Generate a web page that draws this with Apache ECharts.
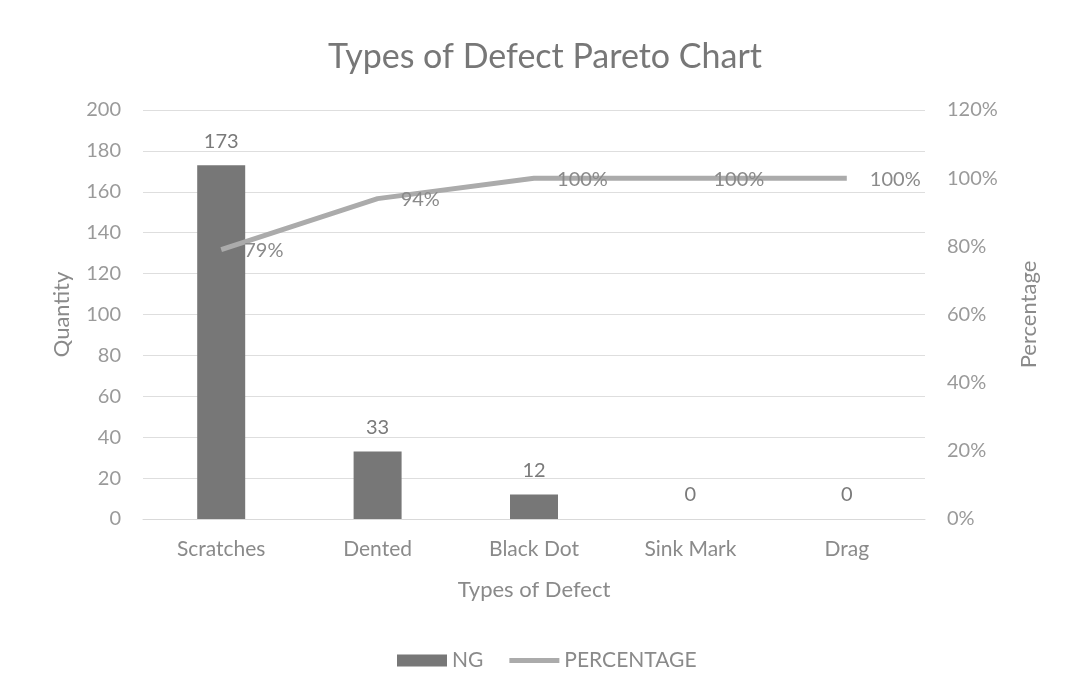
<!DOCTYPE html>
<html>
<head>
<meta charset="utf-8">
<script src="https://cdn.jsdelivr.net/npm/echarts@6/dist/echarts.min.js"></script>
<style>
  html, body { margin: 0; padding: 0; background: #ffffff; }
  #chart { width: 1067px; height: 693px; }
</style>
</head>
<body>
<div id="chart"></div>
<script>
// Defect counts and cumulative share per defect type
const categories = ['Scratches', 'Dented', 'Black Dot', 'Sink Mark', 'Drag'];
const ngCounts = [173, 33, 12, 0, 0];
const cumulativePct = [79, 94, 100, 100, 100];
const quantityTicks = { min: 0, max: 200, interval: 20 };
const percentTicks = { min: 0, max: 120, interval: 20 };

const FONT = 'Lato, "Open Sans", sans-serif';
const chart = echarts.init(document.getElementById('chart'));

chart.setOption({
  backgroundColor: '#ffffff',
  animation: false,
  textStyle: { fontFamily: FONT },
  title: {
    text: 'Types of Defect Pareto Chart',
    left: 540,
    textAlign: 'center',
    top: 35,
    textStyle: { fontFamily: FONT, fontSize: 34, fontWeight: 'normal', color: '#777777' }
  },
  legend: {
    bottom: 17,
    left: 392,
    itemGap: 26,
    itemWidth: 50,
    itemHeight: 12,
    textStyle: { fontFamily: FONT, fontSize: 21, color: '#8a8a8a' },
    data: [
      { name: 'NG', icon: 'rect' },
      { name: 'PERCENTAGE', icon: 'path://M0,0H50V5H0Z' }
    ]
  },
  grid: { left: 143, right: 142, top: 110, bottom: 174 },
  xAxis: {
    type: 'category',
    data: categories,
    name: 'Types of Defect',
    nameLocation: 'middle',
    nameGap: 60,
    nameTextStyle: { fontFamily: FONT, fontSize: 22, color: '#8a8a8a' },
    axisLine: { lineStyle: { color: '#d9d9d9', width: 1 } },
    axisTick: { show: false },
    axisLabel: { fontFamily: FONT, fontSize: 21, color: '#8a8a8a', margin: 20 }
  },
  yAxis: [
    {
      type: 'value',
      min: quantityTicks.min,
      max: quantityTicks.max,
      interval: quantityTicks.interval,
      name: 'Quantity',
      nameLocation: 'middle',
      nameGap: 70,
      nameRotate: 90,
      nameTextStyle: { fontFamily: FONT, fontSize: 22, color: '#8a8a8a' },
      axisLine: { show: false },
      axisTick: { show: false },
      axisLabel: { fontFamily: FONT, fontSize: 20, color: '#9a9a9a', margin: 22 },
      splitLine: { lineStyle: { color: '#dedede', width: 1 } }
    },
    {
      type: 'value',
      min: percentTicks.min,
      max: percentTicks.max,
      interval: percentTicks.interval,
      name: 'Percentage',
      nameLocation: 'middle',
      nameGap: 93,
      nameRotate: 90,
      nameTextStyle: { fontFamily: FONT, fontSize: 22, color: '#8a8a8a' },
      axisLine: { show: false },
      axisTick: { show: false },
      axisLabel: { fontFamily: FONT, fontSize: 20, color: '#9a9a9a', margin: 22, formatter: '{value}%' },
      splitLine: { show: false }
    }
  ],
  series: [
    {
      name: 'NG',
      type: 'bar',
      yAxisIndex: 0,
      data: ngCounts,
      barWidth: 48,
      itemStyle: { color: '#777777' },
      label: {
        show: true,
        position: 'top',
        distance: 14,
        fontFamily: FONT,
        fontSize: 20,
        color: '#7a7a7a'
      }
    },
    {
      name: 'PERCENTAGE',
      type: 'line',
      yAxisIndex: 1,
      data: cumulativePct,
      symbol: 'circle',
      symbolSize: 0.1,
      showSymbol: true,
      lineStyle: { color: '#ababab', width: 5 },
      itemStyle: { color: '#ababab' },
      label: {
        show: true,
        position: 'right',
        distance: 23,
        offset: [0, 1],
        formatter: '{c}%',
        fontFamily: FONT,
        fontSize: 20,
        color: '#8a8a8a'
      }
    }
  ]
});
</script>
</body>
</html>
